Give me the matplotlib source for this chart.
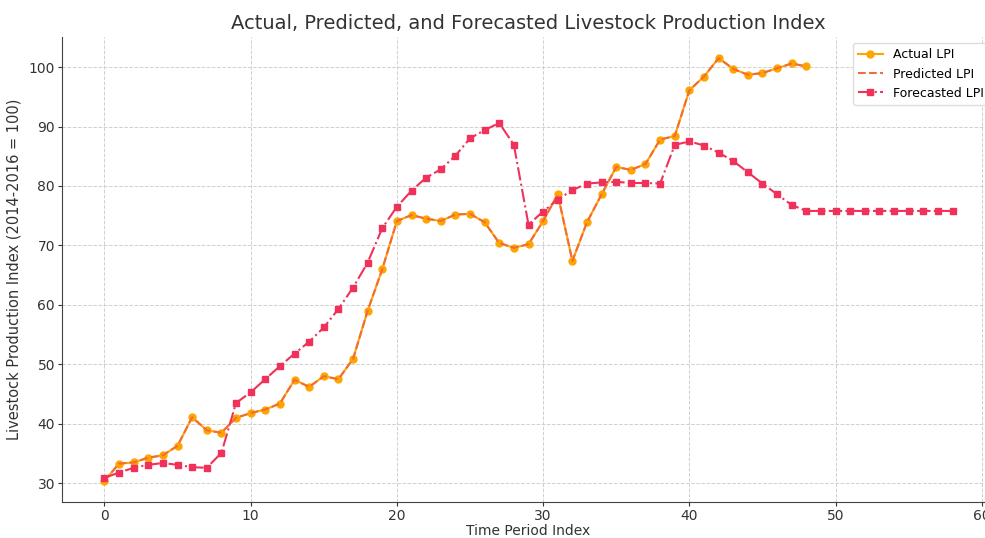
import numpy as np
import matplotlib
matplotlib.use("Agg")
import matplotlib.pyplot as plt

# Valeurs
actual_lpi = [30.4, 33.3, 33.5, 34.3, 34.7, 36.3, 41.1, 38.9, 38.5, 41.0,
              41.8, 42.4, 43.4, 47.4, 46.2, 48.0, 47.5, 50.9, 59.0, 66.0,
              74.1, 75.1, 74.5, 74.1, 75.2, 75.3, 73.9, 70.4, 69.6, 70.2,
              74.1, 78.6, 67.4, 73.9, 78.6, 83.2, 82.7, 83.7, 87.8, 88.4,
              96.1, 98.4, 101.5, 99.7, 98.7, 99.0, 99.8, 100.6, 100.1]
predicted_lpi = list(actual_lpi)
forecast_lpi = [30.9, 31.8, 32.6, 33.1, 33.4, 33.1, 32.7, 32.6, 35.1, 43.5,
                45.3, 47.5, 49.7, 51.8, 53.8, 56.2, 59.3, 62.9, 67.1, 72.9,
                76.5, 79.2, 81.4, 82.8, 85.1, 88.0, 89.4, 90.6, 86.9, 73.5,
                75.7, 77.7, 79.3, 80.4, 80.6, 80.7, 80.5, 80.5, 80.4, 86.9,
                87.5, 86.8, 85.6, 84.2, 82.3, 80.4, 78.6, 76.8, 75.8, 75.8,
                75.8, 75.8, 75.8, 75.8, 75.8, 75.8, 75.8, 75.8, 75.8]

t_actual = np.arange(len(actual_lpi))
t_forecast = np.arange(len(forecast_lpi))

fig = plt.figure(figsize=(9.85, 5.38), dpi=100)
# l'axe déborde à droite comme sur l'image d'origine (recadrée)
ax = fig.add_axes([62 / 985, 36 / 538, 933 / 985, 465 / 538])

ax.plot(t_actual, actual_lpi, color='#ffa500', marker='o', markersize=5,
        linewidth=1.5, label='Actual LPI')
ax.plot(t_actual, predicted_lpi, color='#f26b3a', linestyle='--',
        linewidth=1.5, label='Predicted LPI')
ax.plot(t_forecast, forecast_lpi, color='#f0325a', marker='s', markersize=5,
        linestyle='-.', linewidth=1.5, label='Forecasted LPI')

ax.set_title('Actual, Predicted, and Forecasted Livestock Production Index',
             fontsize=14, color='#333333', pad=6)
ax.set_xlabel('Time Period Index', fontsize=10, color='#333333', labelpad=1)
ax.set_ylabel('Livestock Production Index (2014-2016 = 100)', fontsize=10.5,
              color='#333333', labelpad=5)

ax.set_xticks([0, 10, 20, 30, 40, 50, 60])
ax.set_yticks([30, 40, 50, 60, 70, 80, 90, 100])
ax.tick_params(labelsize=10, colors='#333333', length=3, pad=2)
ax.grid(True, linestyle='--', color='#d0d0d0', linewidth=0.7)
ax.spines['top'].set_visible(False)
ax.spines['right'].set_visible(False)
for s in ['left', 'bottom']:
    ax.spines[s].set_color('#444444')

ax.legend(loc='upper right', fontsize=9, framealpha=1, edgecolor='#dddddd')

fig.savefig('out.png', dpi=100)
